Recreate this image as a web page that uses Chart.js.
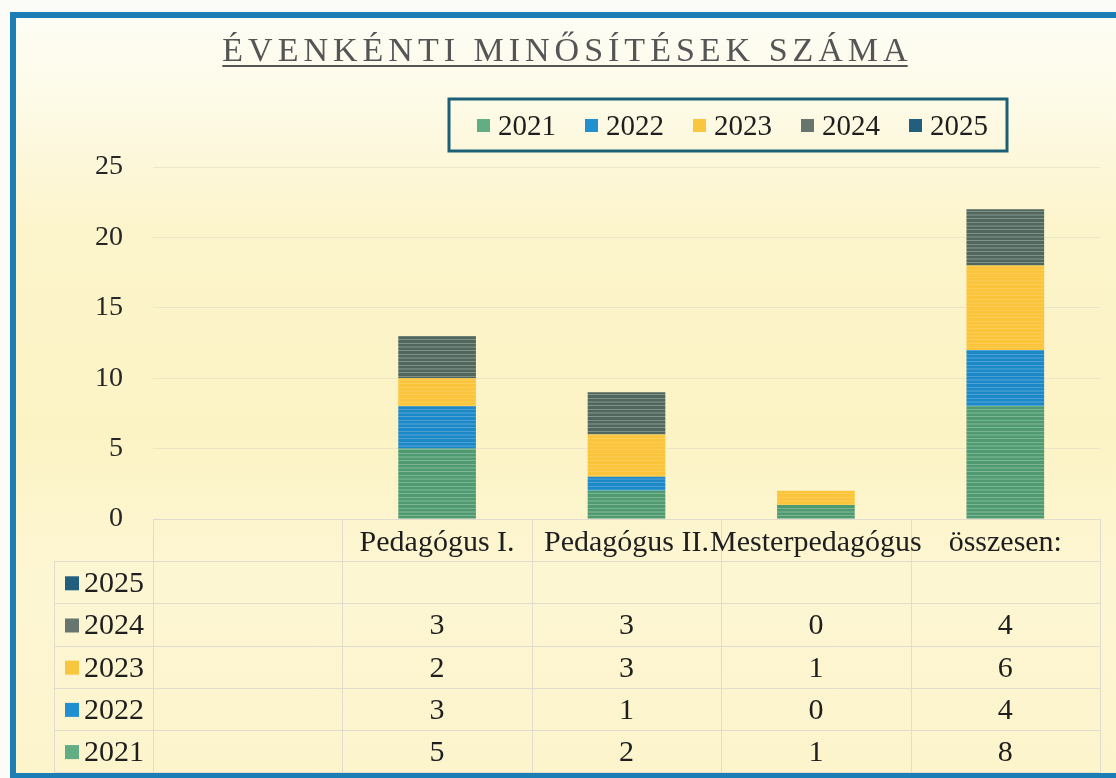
<!DOCTYPE html>
<html lang="hu">
<head>
<meta charset="utf-8">
<title>Évenkénti minősítések száma</title>
<script src="https://cdn.jsdelivr.net/npm/chart.js@4.4.1/dist/chart.umd.min.js"></script>
<style>
  html, body { margin: 0; padding: 0; background: #ffffff; }
  #wrap { position: relative; width: 1116px; height: 778px; }
</style>
</head>
<body>
<div id="wrap"><canvas id="chart" width="1116" height="778"></canvas></div>
<script>
// adatok
const chartTitle = 'ÉVENKÉNTI MINŐSÍTÉSEK SZÁMA';
const categories = ['', 'Pedagógus I.', 'Pedagógus II.', 'Mesterpedagógus', 'összesen:'];
const years = ['2021', '2022', '2023', '2024', '2025'];
const values2021 = [null, 5, 2, 1, 8];
const values2022 = [null, 3, 1, 0, 4];
const values2023 = [null, 2, 3, 1, 6];
const values2024 = [null, 3, 3, 0, 4];
const values2025 = [null, null, null, null, null];
const yTicks = [0, 5, 10, 15, 20, 25];

// színek
const barColors = ['#4f9a70', '#1d88c8', '#fbc43a', '#51665c', '#1e5f7e'];
const stripeColors = ['#9cc9ab', '#6fb4dc', '#fdd46a', '#a0b2a8', '#5e93ad'];
const keyColors = ['#62ad83', '#2290d0', '#f9c640', '#66766e', '#225f7f'];

const FONT = "'Liberation Serif', 'Times New Roman', serif";
const seriesValues = [values2021, values2022, values2023, values2024, values2025];

// csíkos kitöltés (szkennelt hatás)
function stripes(base, light) {
  const c = document.createElement('canvas');
  c.width = 8; c.height = 11;
  const g = c.getContext('2d');
  g.fillStyle = base;
  g.fillRect(0, 0, 8, 11);
  g.globalAlpha = 0.55;
  g.fillStyle = light;
  g.fillRect(0, 2, 8, 1);
  g.globalAlpha = 0.35;
  g.fillRect(0, 5, 8, 2);
  g.globalAlpha = 0.6;
  g.fillRect(0, 9, 8, 1);
  return g.createPattern(c, 'repeat');
}

// háttér, keret, cím
const pagePlugin = {
  id: 'page',
  beforeDraw(chart) {
    const ctx = chart.ctx;
    const w = chart.width, h = chart.height;
    ctx.save();
    ctx.fillStyle = '#fbfbf7';
    ctx.fillRect(0, 0, w, h);

    const g = ctx.createLinearGradient(0, 17, 0, h - 4);
    g.addColorStop(0, '#fefdf5');
    g.addColorStop(0.12, '#fdfae6');
    g.addColorStop(0.28, '#fcf4cb');
    g.addColorStop(0.55, '#fcf3c5');
    g.addColorStop(0.75, '#fdf6d3');
    g.addColorStop(1, '#fcf4cb');
    ctx.fillStyle = g;
    ctx.fillRect(14, 14, w - 14, h - 18);

    // keret
    ctx.strokeStyle = '#1b7fb6';
    ctx.lineWidth = 6;
    ctx.beginPath();
    ctx.moveTo(w + 10, 15);
    ctx.lineTo(13, 15);
    ctx.lineTo(13, h + 10);
    ctx.stroke();
    ctx.beginPath();
    ctx.moveTo(13, h - 2);
    ctx.lineTo(w + 10, h - 2);
    ctx.stroke();

    // cím
    ctx.font = '34px ' + FONT;
    ctx.letterSpacing = '0px';
    const base = ctx.measureText(chartTitle).width;
    const spacing = 5;
    const tw = base + spacing * (chartTitle.length - 1);
    const x0 = 565 - tw / 2;
    ctx.letterSpacing = spacing + 'px';
    ctx.fillStyle = '#555555';
    ctx.textAlign = 'left';
    ctx.textBaseline = 'alphabetic';
    ctx.fillText(chartTitle, x0, 61);
    ctx.letterSpacing = '0px';
    ctx.fillRect(x0, 65, tw, 2);
    ctx.restore();
  }
};

// jelmagyarázat kerettel
const legendPlugin = {
  id: 'boxLegend',
  afterDraw(chart) {
    const ctx = chart.ctx;
    ctx.save();
    ctx.strokeStyle = '#1d6075';
    ctx.lineWidth = 3;
    ctx.strokeRect(449, 99, 558, 52);
    ctx.font = '29px ' + FONT;
    ctx.textBaseline = 'middle';
    ctx.textAlign = 'left';
    let x = 477;
    chart.data.datasets.forEach((ds, i) => {
      ctx.fillStyle = keyColors[i];
      ctx.fillRect(x, 119, 13, 13);
      ctx.fillStyle = '#1e1e1e';
      ctx.fillText(ds.label, x + 21, 127);
      x += 21 + ctx.measureText(ds.label).width + 29;
    });
    ctx.restore();
  }
};

// adattábla a diagram alatt
const tablePlugin = {
  id: 'dataTable',
  afterDraw(chart) {
    const ctx = chart.ctx;
    const area = chart.chartArea;
    const xs = chart.scales.x;
    const top = area.bottom;
    const rowH = 42.2;
    const labelLeft = 54;
    const colW = (area.right - area.left) / categories.length;
    const nRows = years.length + 1;
    const bottom = top + rowH * nRows;
    ctx.save();

    ctx.strokeStyle = 'rgba(222, 219, 206, 0.95)';
    ctx.lineWidth = 1;
    ctx.beginPath();
    ctx.moveTo(area.left, top + 0.5);
    ctx.lineTo(area.right, top + 0.5);
    for (let r = 1; r <= nRows; r++) {
      const y = Math.round(top + r * rowH) + 0.5;
      ctx.moveTo(labelLeft, y);
      ctx.lineTo(area.right, y);
    }
    for (let c = 0; c <= categories.length; c++) {
      const x = Math.round(area.left + c * colW) + 0.5;
      ctx.moveTo(x, top);
      ctx.lineTo(x, bottom);
    }
    ctx.moveTo(labelLeft + 0.5, top + rowH);
    ctx.lineTo(labelLeft + 0.5, bottom);
    ctx.stroke();

    ctx.font = '30px ' + FONT;
    ctx.fillStyle = '#1e1e1e';
    ctx.textBaseline = 'middle';
    ctx.textAlign = 'center';
    categories.forEach((cat, i) => {
      ctx.fillText(cat, xs.getPixelForValue(i), top + rowH / 2 + 3);
    });

    const datasets = chart.data.datasets;
    for (let k = 0; k < datasets.length; k++) {
      const di = datasets.length - 1 - k;
      const ds = datasets[di];
      const yc = top + rowH * (k + 1) + rowH / 2 + 2;
      ctx.fillStyle = keyColors[di];
      ctx.fillRect(65, yc - 8, 14, 14);
      ctx.fillStyle = '#1e1e1e';
      ctx.textAlign = 'left';
      ctx.fillText(ds.label, 84, yc);
      ctx.textAlign = 'center';
      ds.data.forEach((v, i) => {
        if (v === null || v === undefined) return;
        ctx.fillText(String(v), xs.getPixelForValue(i), yc);
      });
    }
    ctx.restore();
  }
};

const ctx = document.getElementById('chart').getContext('2d');

new Chart(ctx, {
  type: 'bar',
  data: {
    labels: categories,
    datasets: years.map((y, i) => ({
      label: y,
      data: seriesValues[i],
      backgroundColor: stripes(barColors[i], stripeColors[i]),
      borderWidth: 0,
      barPercentage: 0.41,
      categoryPercentage: 1
    }))
  },
  options: {
    responsive: false,
    animation: false,
    layout: {
      padding: { top: 167, left: 65, right: 16, bottom: 259 }
    },
    plugins: {
      legend: { display: false },
      title: { display: false },
      tooltip: { enabled: false }
    },
    scales: {
      x: {
        stacked: true,
        display: false
      },
      y: {
        stacked: true,
        min: yTicks[0],
        max: yTicks[yTicks.length - 1],
        ticks: {
          stepSize: yTicks[1] - yTicks[0],
          padding: 30,
          color: '#262626',
          font: { family: FONT, size: 28 }
        },
        grid: {
          color: 'rgba(220, 216, 198, 0.5)',
          drawTicks: false
        },
        border: { display: false }
      }
    }
  },
  plugins: [pagePlugin, legendPlugin, tablePlugin]
});
</script>
</body>
</html>
